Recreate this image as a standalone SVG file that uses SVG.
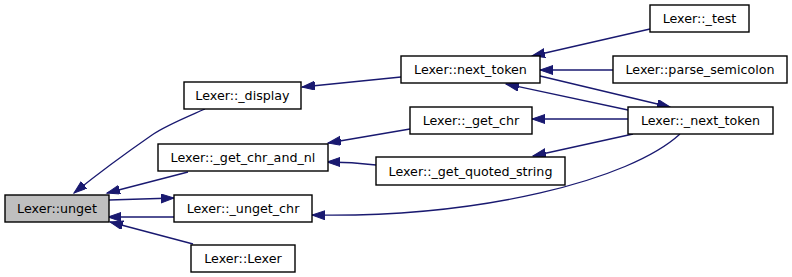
<svg xmlns="http://www.w3.org/2000/svg" width="792" height="277" viewBox="0 0 792 277">
  <style>
    .node rect { fill: #ffffff; stroke: #000000; stroke-width: 1.4; }
    .node.focus rect { fill: #bfbfbf; }
    .node text { font-family: "DejaVu Sans", sans-serif; font-size: 12.7px; fill: #000000; text-anchor: middle; }
    .edges path { fill: none; stroke: #191970; stroke-width: 1.3; marker-end: url(#arrow); }
  </style>
  <defs>
    <marker id="arrow" markerUnits="userSpaceOnUse" markerWidth="15" markerHeight="11" refX="13" refY="4.5" orient="auto">
      <path d="M0,0 L13,4.5 L0,9 z" fill="#191970" stroke="#191970" stroke-width="1"/>
    </marker>
  </defs>
  <rect width="792" height="277" fill="#ffffff"/>

  <g class="edges" id="edges">
    <path d="M205,109 C180,120 165,126 152,135 S100,172 74,193"/>
    <path d="M188,172 L107,193"/>
    <path d="M109,200 L174,198"/>
    <path d="M174,217 L108,217"/>
    <path d="M193,244 L110,222"/>
    <path d="M401,77 L302,87"/>
    <path d="M650,29 L532,56"/>
    <path d="M613,70 L540,70"/>
    <path d="M540,76 L670,107"/>
    <path d="M628,110 L506,84"/>
    <path d="M628,119 L532,119"/>
    <path d="M410,129 L328,143"/>
    <path d="M376,165 C360,163 345,162 327,162"/>
    <path d="M633,134 L533,156"/>
    <path d="M680,134 C630,180 480,218 312,215"/>
  </g>

  <g class="node focus" id="unget">
    <rect x="5" y="195" width="104" height="27"/>
    <text x="57" y="213">Lexer::unget</text>
  </g>
  <g class="node" id="display">
    <rect x="184" y="82" width="117" height="27"/>
    <text x="242.5" y="100">Lexer::_display</text>
  </g>
  <g class="node" id="get_chr_and_nl">
    <rect x="158" y="144" width="170" height="27"/>
    <text x="243" y="162">Lexer::_get_chr_and_nl</text>
  </g>
  <g class="node" id="unget_chr">
    <rect x="174" y="195" width="138" height="27"/>
    <text x="243" y="213">Lexer::_unget_chr</text>
  </g>
  <g class="node" id="lexer">
    <rect x="191" y="245" width="104" height="27"/>
    <text x="243" y="263">Lexer::Lexer</text>
  </g>
  <g class="node" id="next_token">
    <rect x="401" y="56" width="139" height="27"/>
    <text x="470.5" y="74">Lexer::next_token</text>
  </g>
  <g class="node" id="get_chr">
    <rect x="410" y="107" width="122" height="27"/>
    <text x="471" y="125">Lexer::_get_chr</text>
  </g>
  <g class="node" id="get_quoted_string">
    <rect x="376" y="157" width="189" height="28"/>
    <text x="470.5" y="176">Lexer::_get_quoted_string</text>
  </g>
  <g class="node" id="test">
    <rect x="650" y="5" width="99" height="27"/>
    <text x="699.5" y="23">Lexer::_test</text>
  </g>
  <g class="node" id="parse_semicolon">
    <rect x="613" y="56" width="174" height="27"/>
    <text x="700" y="74">Lexer::parse_semicolon</text>
  </g>
  <g class="node" id="private_next_token">
    <rect x="628" y="107" width="145" height="27"/>
    <text x="700.5" y="125">Lexer::_next_token</text>
  </g>
</svg>
